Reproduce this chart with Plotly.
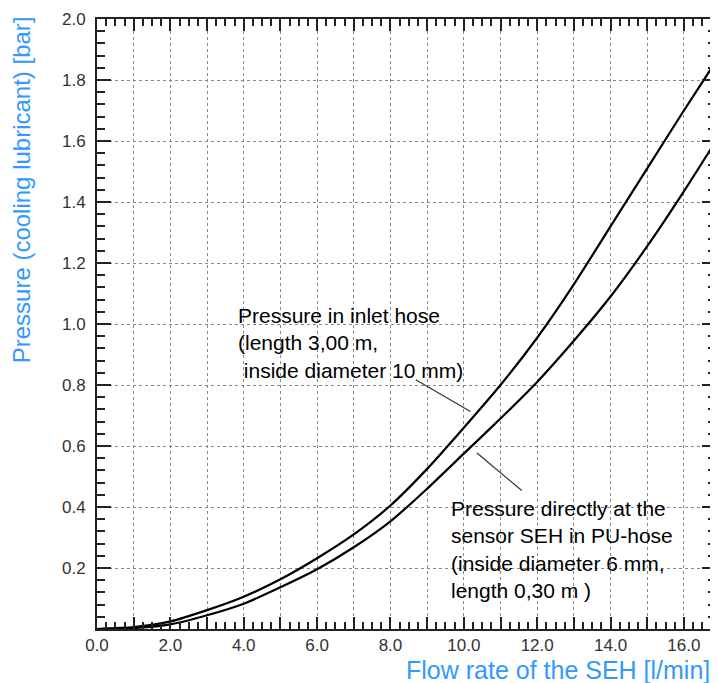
import plotly.graph_objects as go

# ---- data ----
flow_rate = [0, 1, 2, 3, 4, 5, 6, 7, 8, 9, 10, 11, 12, 13, 14, 15, 16, 17]
p_inlet_hose = [0.0, 0.006, 0.025, 0.062, 0.106, 0.163, 0.232, 0.310, 0.405,
                0.525, 0.660, 0.800, 0.955, 1.130, 1.320, 1.510, 1.700, 1.885]
p_sensor = [0.0, 0.003, 0.015, 0.045, 0.083, 0.137, 0.196, 0.268, 0.353,
            0.460, 0.575, 0.690, 0.810, 0.945, 1.090, 1.255, 1.435, 1.625]

x_tickvals = list(range(0, 17))
x_ticktext = ["0.0", "", "2.0", "", "4.0", "", "6.0", "", "8.0", "", "10.0", "",
              "12.0", "", "14.0", "", "16.0"]
y_tickvals = [0.0, 0.2, 0.4, 0.6, 0.8, 1.0, 1.2, 1.4, 1.6, 1.8, 2.0]
y_ticktext = ["", "0.2", "0.4", "0.6", "0.8", "1.0", "1.2", "1.4", "1.6", "1.8", "2.0"]

label_inlet = "Pressure in inlet hose<br>(length 3,00 m,<br>\u00a0inside diameter 10 mm)"
label_sensor = ("Pressure directly at the<br>sensor SEH in PU-hose<br>"
                "(inside diameter 6 mm,<br>length 0,30 m )")
x_title = "Flow rate of the SEH [l/min]"
y_title = "Pressure (cooling lubricant) [bar]"

FONT = "Arial, Liberation Sans, sans-serif"
BLUE = "#3399FF"
AXIS = "#222222"

fig = go.Figure()
fig.add_trace(go.Scatter(x=flow_rate, y=p_inlet_hose, mode="lines",
                         line=dict(color="black", width=2.2, shape="spline", smoothing=0.6),
                         showlegend=False))
fig.add_trace(go.Scatter(x=flow_rate, y=p_sensor, mode="lines",
                         line=dict(color="black", width=2.2, shape="spline", smoothing=0.6),
                         showlegend=False))

# leader lines
fig.add_shape(type="line", x0=8.69, y0=0.817, x1=10.18, y1=0.713,
              line=dict(color="#333333", width=1.2))
fig.add_shape(type="line", x0=10.36, y0=0.577, x1=11.58, y1=0.454,
              line=dict(color="#333333", width=1.2))

fig.add_annotation(x=3.78, y=0.938, xref="x", yref="y", text=label_inlet,
                   showarrow=False, xanchor="left", yanchor="middle", align="left",
                   font=dict(family=FONT, size=21, color="black"))
fig.add_annotation(x=9.59, y=0.26, xref="x", yref="y", text=label_sensor,
                   showarrow=False, xanchor="left", yanchor="middle", align="left",
                   font=dict(family=FONT, size=21, color="black"))

fig.add_annotation(x=0.992, y=-0.067, xref="paper", yref="paper", text=x_title,
                   showarrow=False, xanchor="right", yanchor="middle", borderpad=0,
                   font=dict(family=FONT, size=25, color=BLUE))
fig.add_annotation(x=-0.122, y=0.72, xref="paper", yref="paper", text=y_title,
                   textangle=-90, showarrow=False, xanchor="center", yanchor="middle",
                   font=dict(family=FONT, size=24, color=BLUE))

fig.update_xaxes(range=[0, 16.875], tickmode="array", tickvals=x_tickvals,
                 ticktext=x_ticktext, ticks="inside", ticklen=12, tickwidth=1.5,
                 tickcolor=AXIS, showline=True, linecolor=AXIS, linewidth=2,
                 mirror="ticks", showgrid=True, gridcolor="#888888", gridwidth=1,
                 griddash="dot", zeroline=False,
                 tickfont=dict(family=FONT, size=17, color="#333333"),
                 minor=dict(tickmode="linear", tick0=0, dtick=0.25, ticks="inside",
                            ticklen=7, tickwidth=1.5, tickcolor=AXIS, showgrid=False))
fig.update_yaxes(range=[0, 2.0], tickmode="array", tickvals=y_tickvals,
                 ticktext=y_ticktext, ticks="inside", ticklen=14, tickwidth=1.5,
                 tickcolor=AXIS, showline=True, linecolor=AXIS, linewidth=2,
                 mirror="ticks", showgrid=True, gridcolor="#888888", gridwidth=1,
                 griddash="dot", zeroline=False, ticklabelstandoff=6,
                 tickfont=dict(family=FONT, size=17, color="#333333"),
                 minor=dict(tickmode="linear", tick0=0, dtick=0.04, ticks="inside",
                            ticklen=8, tickwidth=1.5, tickcolor=AXIS, showgrid=False))

# the page body adds an 8px margin, so the figure is sized to fit the window
fig.update_layout(width=710, height=675, margin=dict(l=89, r=0, t=11, b=54),
                  paper_bgcolor="white", plot_bgcolor="white",
                  font=dict(family=FONT))
fig.write_html("out.html")
